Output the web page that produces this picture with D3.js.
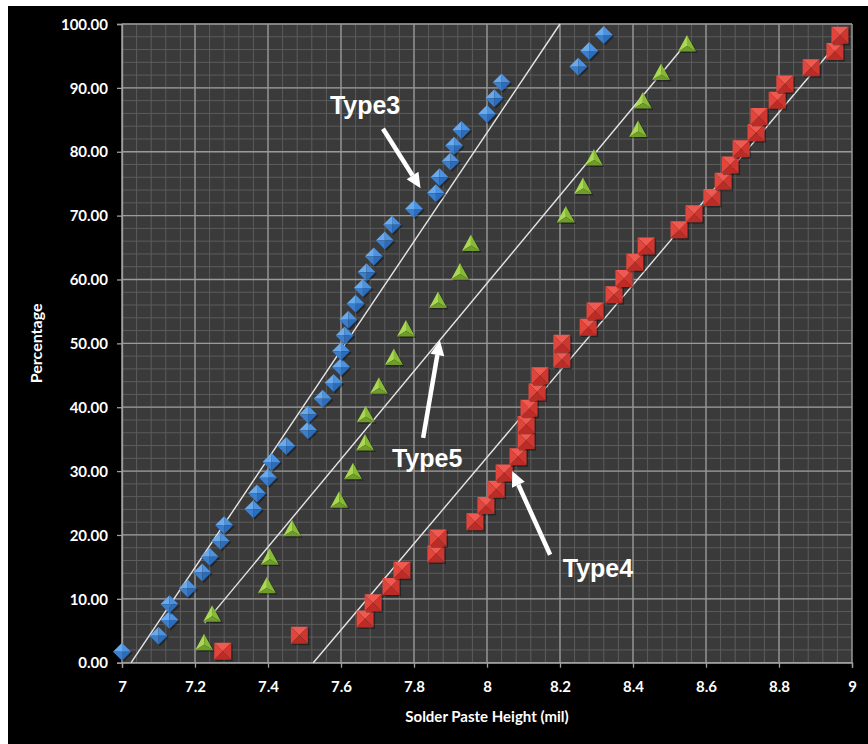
<!DOCTYPE html>
<html><head><meta charset="utf-8">
<script src="https://cdn.jsdelivr.net/npm/d3@7/dist/d3.min.js"></script>
<style>body{margin:0;background:#fff;overflow:hidden}</style>
</head><body>
<svg id="chart" width="868" height="744"></svg>
<script>
// ---------- data ----------
const type3X=[7.00,7.10,7.13,7.13,7.18,7.22,7.24,7.27,7.28,7.36,7.37,7.40,7.41,7.45,7.51,7.51,7.55,7.58,7.60,7.60,7.61,7.62,7.64,7.66,7.67,7.69,7.72,7.74,7.80,7.86,7.87,7.90,7.91,7.93,8.00,8.02,8.04,8.25,8.28,8.32];
const type3Y=[1.73,4.21,6.68,9.16,11.63,14.11,16.58,19.06,21.53,24.01,26.49,28.96,31.44,33.91,36.39,38.86,41.34,43.81,46.29,48.76,51.24,53.71,56.19,58.66,61.14,63.61,66.09,68.56,71.04,73.51,75.99,78.47,80.94,83.42,85.89,88.37,90.84,93.32,95.79,98.27];
const type5X=[7.225,7.247,7.397,7.405,7.466,7.595,7.633,7.666,7.668,7.704,7.745,7.778,7.866,7.926,7.956,8.216,8.263,8.293,8.414,8.427,8.477,8.548];
const type5Y=[3.13,7.59,12.05,16.52,20.98,25.45,29.91,34.38,38.84,43.30,47.77,52.23,56.70,61.16,65.63,70.09,74.55,79.02,83.48,87.95,92.41,96.88];
const type4X=[7.276,7.486,7.666,7.688,7.737,7.767,7.860,7.866,7.967,7.997,8.025,8.047,8.085,8.107,8.107,8.115,8.137,8.145,8.205,8.205,8.277,8.296,8.348,8.375,8.405,8.436,8.526,8.567,8.616,8.647,8.666,8.696,8.737,8.745,8.795,8.816,8.888,8.953,8.967];
const type4Y=[1.78,4.31,6.85,9.39,11.93,14.47,17.01,19.54,22.08,24.62,27.16,29.70,32.23,34.77,37.31,39.85,42.39,44.92,47.46,50.00,52.54,55.08,57.61,60.15,62.69,65.23,67.77,70.30,72.84,75.38,77.92,80.46,82.99,85.53,88.07,90.61,93.15,95.69,98.22];
// trend lines: [x0, y0, x1, y1]
const trend3=[7.025,0,8.2,100];
const trend5=[7.227,6.2,8.545,96.9];
const trend4=[7.524,0,8.972,97.8];
// axis ticks
const xTicks=[7,7.2,7.4,7.6,7.8,8,8.2,8.4,8.6,8.8,9];
const yTicks=[0,10,20,30,40,50,60,70,80,90,100];
const xMinorStep=0.04, yMinorStep=2;
// annotations: label, text position, arrow tail, arrow tip (data units)
const annLabels=["Type3","Type5","Type4"];
const annText=[[7.666,87.3],[7.836,32.0],[8.304,14.8]];
const annTail=[[7.715,83.6],[7.825,35.2],[8.173,16.9]];
const annTip=[[7.818,74.3],[7.871,50.5],[8.069,30.0]];

// ---------- layout ----------
const svg=d3.select("#chart");
svg.append("rect").attr("x",8).attr("y",6).attr("width",860).attr("height",738).attr("fill","#000");
const x=d3.scaleLinear().domain([7,9]).range([122,852]);
const y=d3.scaleLinear().domain([0,100]).range([662.7,24]);

svg.append("rect").attr("x",x(7)).attr("y",y(100)).attr("width",x(9)-x(7)).attr("height",y(0)-y(100)).attr("fill","#3a3a3a");

const xMinor=d3.range(0,Math.round((9-7)/xMinorStep)+1).map(i=>7+i*xMinorStep);
const yMinor=d3.range(0,101,yMinorStep);
const grid=svg.append("g");
grid.selectAll(".vm").data(xMinor).join("line").attr("x1",d=>x(d)).attr("x2",d=>x(d)).attr("y1",y(0)).attr("y2",y(100)).attr("stroke","#5c5c5c").attr("stroke-width",1);
grid.selectAll(".hm").data(yMinor).join("line").attr("y1",d=>y(d)).attr("y2",d=>y(d)).attr("x1",x(7)).attr("x2",x(9)).attr("stroke","#5c5c5c").attr("stroke-width",1);
grid.selectAll(".vM").data(xTicks).join("line").attr("x1",d=>x(d)).attr("x2",d=>x(d)).attr("y1",y(0)).attr("y2",y(100)).attr("stroke","#9a9a9a").attr("stroke-width",1.3);
grid.selectAll(".hM").data(yTicks).join("line").attr("y1",d=>y(d)).attr("y2",d=>y(d)).attr("x1",x(7)).attr("x2",x(9)).attr("stroke","#9a9a9a").attr("stroke-width",1.3);

// axes
const font="Lato, 'Open Sans', sans-serif";
const ax=svg.append("g").attr("transform",`translate(0,${y(0)})`)
  .call(d3.axisBottom(x).tickValues(xTicks).tickFormat(d3.format("~g")).tickSize(5).tickPadding(14));
const ay=svg.append("g").attr("transform",`translate(${x(7)},0)`)
  .call(d3.axisLeft(y).tickValues(yTicks).tickFormat(d3.format(".2f")).tickSize(5).tickPadding(9));
[ax,ay].forEach(a=>{
  a.select(".domain").attr("stroke","#a0a0a0").attr("stroke-width",1.3);
  a.selectAll(".tick line").attr("stroke","#a0a0a0").attr("stroke-width",1.3);
  a.selectAll(".tick text").attr("fill","#fff").attr("font-family",font).attr("font-weight","bold").attr("font-size","15px");
});
ay.selectAll(".tick text").attr("dy","0.35em");

svg.append("text").attr("x",(x(7)+x(9))/2).attr("y",722).attr("text-anchor","middle")
  .attr("fill","#fff").attr("font-family",font).attr("font-weight","bold").attr("font-size","15px")
  .text("Solder Paste Height (mil)");
svg.append("text").attr("transform",`translate(42,${(y(0)+y(100))/2}) rotate(-90)`).attr("text-anchor","middle")
  .attr("fill","#fff").attr("font-family",font).attr("font-weight","bold").attr("font-size","16px")
  .text("Percentage");

// trend lines
const trends=[trend3,trend5,trend4];
svg.append("g").selectAll("line").data(trends).join("line")
  .attr("x1",d=>x(d[0])).attr("y1",d=>y(d[1])).attr("x2",d=>x(d[2])).attr("y2",d=>y(d[3]))
  .attr("stroke","#e6e6e6").attr("stroke-width",1.4);

// markers
function zip(xs,ys){return xs.map((v,i)=>({x:v,y:ys[i]}));}
const pts=(c)=>c.map(p=>p.join(",")).join(" ");

// green triangles
const g5=svg.append("g").selectAll("g").data(zip(type5X,type5Y)).join("g")
  .attr("transform",d=>`translate(${x(d.x)},${y(d.y)})`);
const tA=[0,-9],tL=[-9,7.5],tR=[9,7.5],tC=[0,2];
g5.append("polygon").attr("points",pts([tA,tL,tR])).attr("fill","#000").attr("opacity",0.35).attr("transform","translate(1.5,1.5)");
g5.append("polygon").attr("points",pts([tA,tL,tC])).attr("fill","#aad852");
g5.append("polygon").attr("points",pts([tA,tR,tC])).attr("fill","#86b936");
g5.append("polygon").attr("points",pts([tL,tR,tC])).attr("fill","#6f9c2a");

// red squares
const g4=svg.append("g").selectAll("g").data(zip(type4X,type4Y)).join("g")
  .attr("transform",d=>`translate(${x(d.x)},${y(d.y)})`);
const s=8.5;
const sTL=[-s,-s],sTR=[s,-s],sBR=[s,s],sBL=[-s,s],sC=[0,0];
g4.append("rect").attr("x",-s+1.5).attr("y",-s+1.5).attr("width",2*s).attr("height",2*s).attr("fill","#000").attr("opacity",0.35);
g4.append("polygon").attr("points",pts([sTL,sTR,sC])).attr("fill","#f0594f");
g4.append("polygon").attr("points",pts([sTL,sBL,sC])).attr("fill","#e2453c");
g4.append("polygon").attr("points",pts([sTR,sBR,sC])).attr("fill","#cf3630");
g4.append("polygon").attr("points",pts([sBL,sBR,sC])).attr("fill","#bb2c26");

// blue diamonds
const g3=svg.append("g").selectAll("g").data(zip(type3X,type3Y)).join("g")
  .attr("transform",d=>`translate(${x(d.x)},${y(d.y)})`);
const r=9;
const dT=[0,-r],dR=[r,0],dB=[0,r],dL=[-r,0],dC=[0,0];
g3.append("polygon").attr("points",pts([dT,dR,dB,dL])).attr("fill","#000").attr("opacity",0.35).attr("transform","translate(1.5,1.5)");
g3.append("polygon").attr("points",pts([dT,dL,dC])).attr("fill","#6aa9ec");
g3.append("polygon").attr("points",pts([dT,dR,dC])).attr("fill","#4d92de");
g3.append("polygon").attr("points",pts([dR,dB,dC])).attr("fill","#2c6cba");
g3.append("polygon").attr("points",pts([dB,dL,dC])).attr("fill","#3b7ecb");

// annotations
const ann=svg.append("g");
annLabels.forEach((lab,i)=>{
  ann.append("text").attr("x",x(annText[i][0])).attr("y",y(annText[i][1])).attr("dy","0.35em")
    .attr("text-anchor","middle").attr("fill","#fff").attr("font-family","'Liberation Sans', Arial, sans-serif")
    .attr("font-weight","bold").attr("font-size","25px").text(lab);
  const x0=x(annTail[i][0]),y0=y(annTail[i][1]),x1=x(annTip[i][0]),y1=y(annTip[i][1]);
  const ang=Math.atan2(y1-y0,x1-x0), hl=15, hw=7;
  const bx=x1-hl*Math.cos(ang), by=y1-hl*Math.sin(ang);
  ann.append("line").attr("x1",x0).attr("y1",y0).attr("x2",bx).attr("y2",by).attr("stroke","#fff").attr("stroke-width",4.5);
  const px=-Math.sin(ang), py=Math.cos(ang);
  ann.append("polygon").attr("points",pts([[x1,y1],[bx+hw*px,by+hw*py],[bx-hw*px,by-hw*py]])).attr("fill","#fff");
});
</script>
</body></html>
